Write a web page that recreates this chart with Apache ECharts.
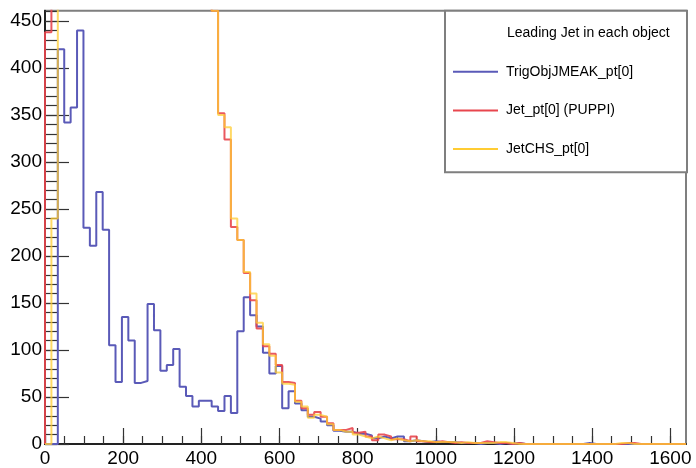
<!DOCTYPE html>
<html>
<head>
<meta charset="utf-8">
<script src="https://cdn.jsdelivr.net/npm/echarts@6/dist/echarts.min.js"></script>
<style>
html,body{margin:0;padding:0;background:#fff;}
#chart{width:696px;height:468px;}
</style>
</head>
<body>
<div id="chart"></div>
<script>
// ---- axis setup ----
const xMin = 0;
const xMax = 1640;
const binWidth = 16.4;
const yMin = 0;
const yMax = 461;
const xMajorTicks = [0, 200, 400, 600, 800, 1000, 1200, 1400, 1600];
const xMinorTicks = [0, 50, 100, 150, 200, 250, 300, 350, 400, 450, 500, 550, 600, 650, 700, 750, 800,
  850, 900, 950, 1000, 1050, 1100, 1150, 1200, 1250, 1300, 1350, 1400, 1450, 1500, 1550, 1600];
const yMajorTicks = [0, 50, 100, 150, 200, 250, 300, 350, 400, 450];
const yMinorTicks = [0, 10, 20, 30, 40, 50, 60, 70, 80, 90, 100, 110, 120, 130, 140, 150, 160, 170, 180, 190,
  200, 210, 220, 230, 240, 250, 260, 270, 280, 290, 300, 310, 320, 330, 340, 350, 360, 370, 380, 390,
  400, 410, 420, 430, 440, 450, 460];

// ---- legend ----
const legendTitle = 'Leading Jet in each object';
const seriesNames = ['TrigObjJMEAK_pt[0]', 'Jet_pt[0] (PUPPI)', 'JetCHS_pt[0]'];

// ---- bin contents (100 bins, 0..1640) ----
const trigObjPt = [
  0, 0, 420, 342, 358, 440, 230, 211, 268, 228,
  105, 66, 135, 110, 65, 67, 149, 121, 78, 84,
  101, 61, 51, 40, 46, 46, 40, 35, 51, 33,
  120, 156, 137, 125, 97, 75, 83, 38, 56, 43,
  36, 29, 27, 24, 20, 14, 13, 13, 11, 11,
  9, 6, 8, 6, 8, 8, 3, 4, 3, 2,
  3, 2, 2, 2, 1, 1, 1, 0, 1, 1,
  0, 1, 0, 1, 0, 0, 0, 0, 0, 0,
  0, 0, 0, 0, 1, 0, 0, 0, 0, 0,
  0, 0, 0, 0, 0, 0, 0, 0, 0, 0
];
const jetPuppiPt = [
  438, 1900, 3500, 5200, 5600, 5100, 4400, 3800, 3200, 2700,
  2300, 1950, 1650, 1400, 1200, 1040, 900, 790, 700, 630,
  580, 540, 510, 490, 475, 465, 461, 352, 324, 231,
  217, 182, 153, 123, 104, 96, 84, 66, 65, 46,
  38, 31, 34, 29, 22, 15, 15, 17, 12, 13,
  8, 4, 10, 8, 5, 5, 3, 8, 3, 2,
  2, 3, 2, 1, 2, 1, 1, 1, 3, 2,
  1, 1, 0, 1, 0, 0, 0, 0, 0, 0,
  0, 0, 0, 0, 0, 0, 0, 0, 0, 0,
  1, 1, 0, 0, 0, 0, 0, 0, 0, 0
];
const jetChsPt = [
  0, 240, 3400, 5100, 5500, 5000, 4300, 3700, 3100, 2600,
  2200, 1900, 1600, 1380, 1180, 1020, 880, 780, 690, 620,
  570, 530, 505, 485, 472, 464, 461, 350, 337, 240,
  217, 183, 160, 129, 106, 94, 76, 64, 63, 45,
  40, 28, 31, 29, 21, 15, 13, 13, 10, 8,
  6, 8, 6, 4, 6, 4, 3, 4, 3, 3,
  2, 2, 2, 2, 1, 2, 1, 1, 1, 1,
  2, 2, 1, 0, 0, 0, 0, 0, 0, 0,
  0, 0, 0, 0, 0, 0, 0, 0, 0, 1,
  1, 0, 0, 0, 0, 0, 0, 0, 0, 0
];

// histogram outline points (bin edge, content), drawn with step:'end'
function histPoints(vals) {
  const pts = [[xMin, 0]];
  for (let i = 0; i < vals.length; i++) pts.push([xMin + i * binWidth, vals[i]]);
  const lastEdge = xMin + vals.length * binWidth;
  pts.push([lastEdge, vals[vals.length - 1]]);
  pts.push([lastEdge, 0]);
  return pts;
}

const FONT = 'Liberation Sans, Arial, Helvetica, sans-serif';
const colors = ['#5a5ab8', '#e8464e', '#ffcc33'];
const plainNumber = function (v) { return String(v); };

function histSeries(name, vals, color, opacity) {
  return {
    name: name,
    type: 'line',
    step: 'end',
    data: histPoints(vals),
    showSymbol: false,
    symbol: 'none',
    color: color,
    itemStyle: {color: color},
    lineStyle: {color: color, width: 2, opacity: opacity},
    clip: true,
    silent: true
  };
}

const chart = echarts.init(document.getElementById('chart'), null, {renderer: 'canvas'});
chart.setOption({
  animation: false,
  backgroundColor: '#ffffff',
  grid: {
    left: 45, right: 10, top: 10.7, bottom: 24,
    show: true, borderColor: '#7f7f7f', borderWidth: 2, backgroundColor: '#ffffff'
  },
  xAxis: [
    {
      type: 'value', min: xMin, max: xMax, position: 'bottom',
      axisLine: {show: true, onZero: false, lineStyle: {color: '#222', width: 2}},
      axisTick: {show: true, inside: true, length: 16, customValues: xMajorTicks, lineStyle: {color: '#333', width: 1.2}},
      axisLabel: {show: true, customValues: xMajorTicks, formatter: plainNumber, margin: 5, color: '#000', fontSize: 19, fontFamily: FONT},
      splitLine: {show: false}
    },
    {
      type: 'value', min: xMin, max: xMax, position: 'bottom', offset: 0,
      axisLine: {show: false},
      axisTick: {show: true, inside: true, length: 8, customValues: xMinorTicks, lineStyle: {color: '#333', width: 1.2}},
      axisLabel: {show: false},
      splitLine: {show: false}
    }
  ],
  yAxis: [
    {
      type: 'value', min: yMin, max: yMax, position: 'left',
      axisLine: {show: true, onZero: false, lineStyle: {color: '#222', width: 2}},
      axisTick: {show: true, inside: true, length: 24, customValues: yMajorTicks, lineStyle: {color: '#333', width: 1.2}},
      axisLabel: {show: true, customValues: yMajorTicks, formatter: plainNumber, margin: 3, color: '#000', fontSize: 19, fontFamily: FONT},
      splitLine: {show: false}
    },
    {
      type: 'value', min: yMin, max: yMax, position: 'left', offset: 0,
      axisLine: {show: false},
      axisTick: {show: true, inside: true, length: 12, customValues: yMinorTicks, lineStyle: {color: '#333', width: 1.2}},
      axisLabel: {show: false},
      splitLine: {show: false}
    }
  ],
  legend: {
    orient: 'vertical',
    left: 453, top: 64.7,
    padding: 0,
    icon: 'path://M0,0 L45,0 L45,2 L0,2 Z',
    itemWidth: 45, itemHeight: 2, itemGap: 24.7,
    data: seriesNames,
    textStyle: {color: '#000', fontSize: 14, fontFamily: FONT, lineHeight: 14, padding: [0, 0, 0, 3]},
    selectedMode: false,
    z: 5
  },
  graphic: [
    {
      type: 'rect', z: 3,
      shape: {x: 445, y: 10.7, width: 242, height: 161.6},
      style: {fill: '#ffffff', stroke: '#7f7f7f', lineWidth: 2}
    },
    {
      type: 'text', z: 6, x: 507, y: 33.5,
      style: {text: legendTitle, fill: '#000', fontSize: 14, fontFamily: FONT, verticalAlign: 'middle'}
    }
  ],
  series: [
    histSeries(seriesNames[0], trigObjPt, colors[0], 1),
    histSeries(seriesNames[1], jetPuppiPt, colors[1], 0.9),
    histSeries(seriesNames[2], jetChsPt, colors[2], 0.75)
  ]
});
</script>
</body>
</html>
